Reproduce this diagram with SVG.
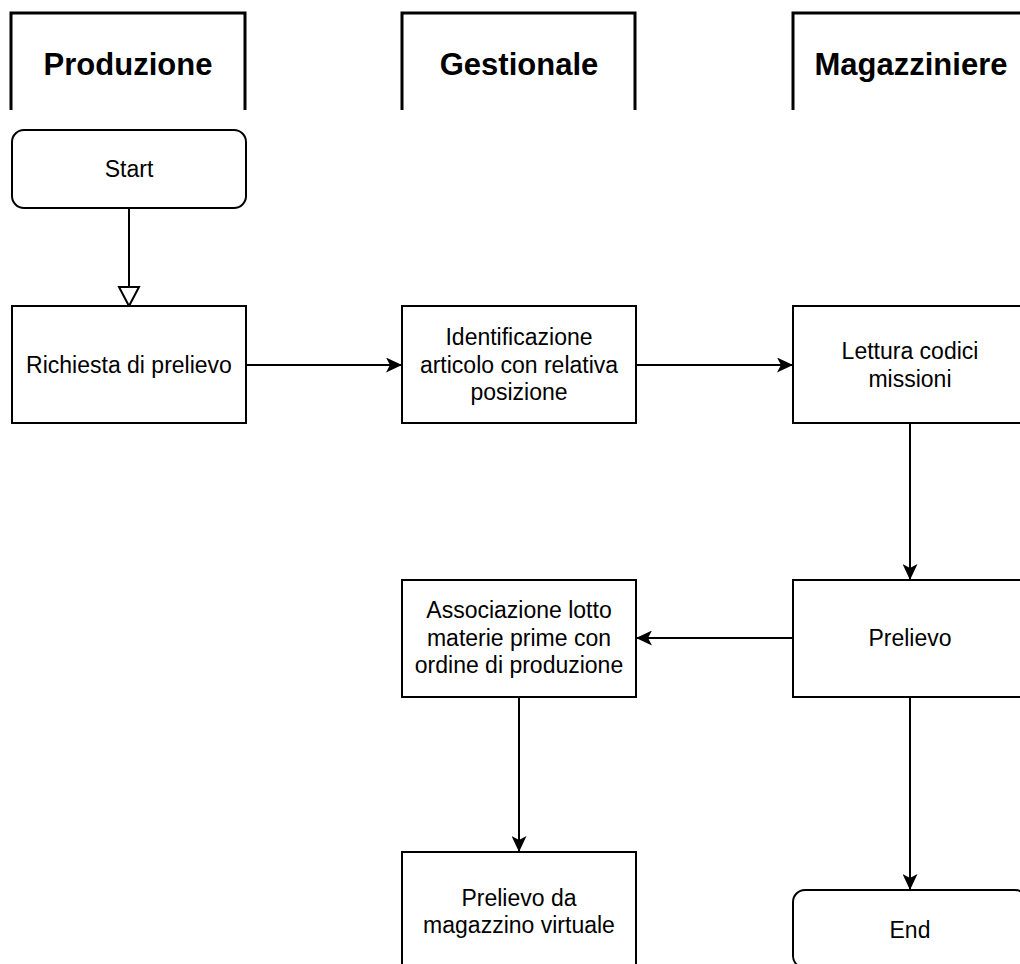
<svg xmlns="http://www.w3.org/2000/svg" width="1020" height="964" viewBox="0 0 1020 964">
<style>
.lane{fill:none;stroke:#000;stroke-width:3}
.box{fill:#fff;stroke:#000;stroke-width:2}
.t{font-family:"Liberation Sans",Arial,sans-serif;font-size:23px;fill:#000;text-anchor:middle}
.h{font-family:"Liberation Sans",Arial,sans-serif;font-size:31px;font-weight:bold;fill:#000;text-anchor:middle}
.c{fill:none;stroke:#000;stroke-width:2}
</style>
<defs>
<marker id="arr" markerUnits="userSpaceOnUse" viewBox="0 0 16 15" refX="16" refY="7.5" markerWidth="16" markerHeight="15" orient="auto">
<path d="M0,0 L16,7.5 L0,15 L4,7.5 Z" fill="#000"/>
</marker>
<marker id="hollow" markerUnits="userSpaceOnUse" viewBox="-2 -2 23 24" refX="19" refY="10" markerWidth="23" markerHeight="24" orient="auto" overflow="visible">
<path d="M0,0 L19,10 L0,20 Z" fill="#fff" stroke="#000" stroke-width="2" stroke-linejoin="miter"/>
</marker>
</defs>
<g id="lane-produzione">
<path class="lane" d="M11,110 V13 H245 V110"/>
<text class="h" x="128" y="75">Produzione</text>
</g>
<g id="lane-gestionale">
<path class="lane" d="M402,110 V13 H635 V110"/>
<text class="h" x="519" y="75">Gestionale</text>
</g>
<g id="lane-magazziniere">
<path class="lane" d="M793,110 V13 H1030"/>
<text class="h" x="911" y="75">Magazziniere</text>
</g>
<g id="connectors">
<path class="c" d="M129,208 V306" marker-end="url(#hollow)"/>
<path class="c" d="M246,365 H402" marker-end="url(#arr)"/>
<path class="c" d="M636,365 H793" marker-end="url(#arr)"/>
<path class="c" d="M910,423 V580" marker-end="url(#arr)"/>
<path class="c" d="M793,638 H636" marker-end="url(#arr)"/>
<path class="c" d="M519,697 V852" marker-end="url(#arr)"/>
<path class="c" d="M910,697 V890" marker-end="url(#arr)"/>
</g>
<g id="start">
<rect class="box" x="12" y="130" width="234" height="78" rx="12"/>
<text class="t" x="129" y="177">Start</text>
</g>
<g id="richiesta">
<rect class="box" x="12" y="306" width="234" height="117"/>
<text class="t" x="129" y="373">Richiesta di prelievo</text>
</g>
<g id="identificazione">
<rect class="box" x="402" y="306" width="234" height="117"/>
<text class="t" x="519" y="345">Identificazione</text>
<text class="t" x="519" y="373">articolo con relativa</text>
<text class="t" x="519" y="400">posizione</text>
</g>
<g id="lettura">
<rect class="box" x="793" y="306" width="234" height="117"/>
<text class="t" x="910" y="359">Lettura codici</text>
<text class="t" x="910" y="387">missioni</text>
</g>
<g id="prelievo">
<rect class="box" x="793" y="580" width="234" height="117"/>
<text class="t" x="910" y="646">Prelievo</text>
</g>
<g id="associazione">
<rect class="box" x="402" y="580" width="234" height="117"/>
<text class="t" x="519" y="618">Associazione lotto</text>
<text class="t" x="519" y="646">materie prime con</text>
<text class="t" x="519" y="673">ordine di produzione</text>
</g>
<g id="prelievo-virtuale">
<rect class="box" x="402" y="852" width="234" height="117"/>
<text class="t" x="519" y="906">Prelievo da</text>
<text class="t" x="519" y="933">magazzino virtuale</text>
</g>
<g id="end">
<rect class="box" x="793" y="890" width="234" height="78" rx="12"/>
<text class="t" x="910" y="938">End</text>
</g>
</svg>
